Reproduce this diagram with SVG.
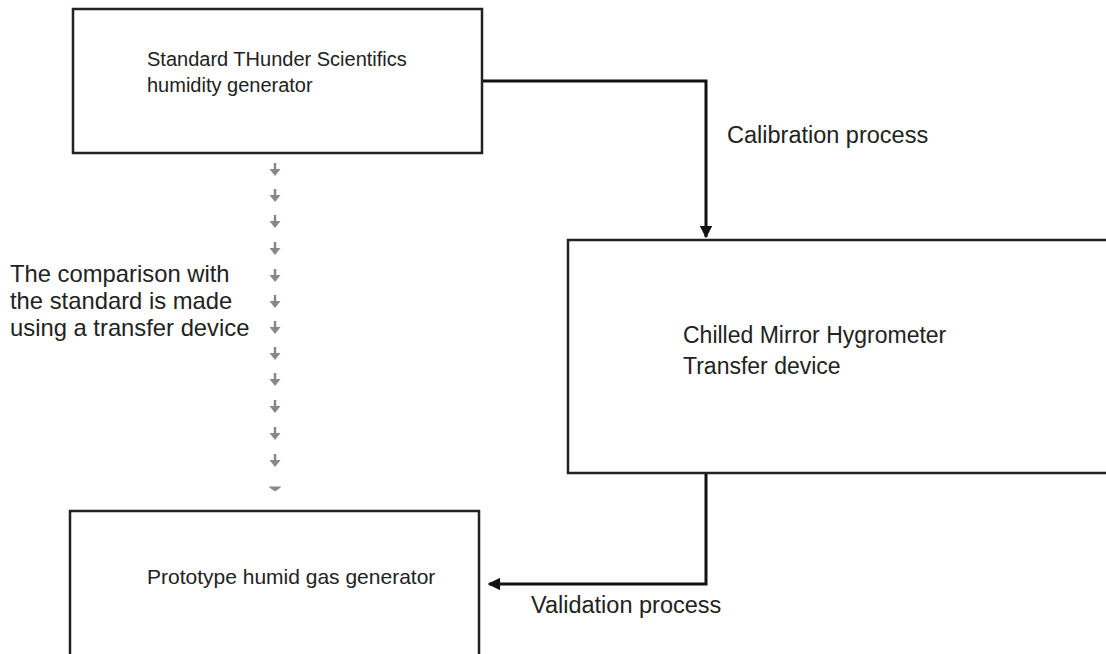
<svg xmlns="http://www.w3.org/2000/svg" width="1106" height="654" viewBox="0 0 1106 654">
<style>
.box{fill:#fff;stroke:#222;stroke-width:2.5}
.t{font-family:"Liberation Sans",Arial,sans-serif;fill:#222}
.c{fill:none;stroke:#111;stroke-width:3}
</style>
<defs>
<marker id="ah" viewBox="0 0 10 10" refX="9" refY="5" markerWidth="4.2" markerHeight="4.2" orient="auto" markerUnits="strokeWidth">
<path d="M0,0 L10,5 L0,10 z" fill="#111"/>
</marker>
<g id="darrow">
<line x1="0" y1="-7" x2="0" y2="1" stroke="#888" stroke-width="2.5"/>
<path d="M-5.5,-1 L5.5,-1 L0,6 z" fill="#888"/>
</g>
</defs>
<rect width="1106" height="654" fill="#fff"/>
<g id="connectors">
<path class="c" d="M482,81 H706 V237" marker-end="url(#ah)"/>
<path class="c" d="M706,473 V584 H489" marker-end="url(#ah)"/>
<g id="dotted">
<use href="#darrow" x="275" y="170"/>
<use href="#darrow" x="275" y="196"/>
<use href="#darrow" x="275" y="222"/>
<use href="#darrow" x="275" y="249"/>
<use href="#darrow" x="275" y="276"/>
<use href="#darrow" x="275" y="302"/>
<use href="#darrow" x="275" y="328"/>
<use href="#darrow" x="275" y="354"/>
<use href="#darrow" x="275" y="380"/>
<use href="#darrow" x="275" y="407"/>
<use href="#darrow" x="275" y="434"/>
<use href="#darrow" x="275" y="461"/>
<path d="M269.5,487 H280.5 L275,491 z" fill="#888" stroke="#888" stroke-width="1"/>
</g>
</g>
<g id="node-standard">
<rect class="box" x="73" y="9" width="409" height="144"/>
<text class="t" font-size="20" x="147" y="66">Standard THunder Scientifics</text>
<text class="t" font-size="20" x="147" y="92">humidity generator</text>
</g>
<g id="node-hygrometer">
<rect class="box" x="568" y="240" width="560" height="233"/>
<text class="t" font-size="23" x="683" y="343">Chilled Mirror Hygrometer</text>
<text class="t" font-size="23" x="683" y="374">Transfer device</text>
</g>
<g id="node-prototype">
<rect class="box" x="70" y="511" width="409" height="160"/>
<text class="t" font-size="21" x="147" y="584">Prototype humid gas generator</text>
</g>
<g id="labels">
<text class="t" font-size="23.5" x="727" y="143">Calibration process</text>
<text class="t" font-size="23.5" x="531" y="613">Validation process</text>
<text class="t" font-size="23.8" x="10" y="282">The comparison with</text>
<text class="t" font-size="23.8" x="10" y="309">the standard is made</text>
<text class="t" font-size="23.8" x="10" y="336">using a transfer device</text>
</g>
</svg>
